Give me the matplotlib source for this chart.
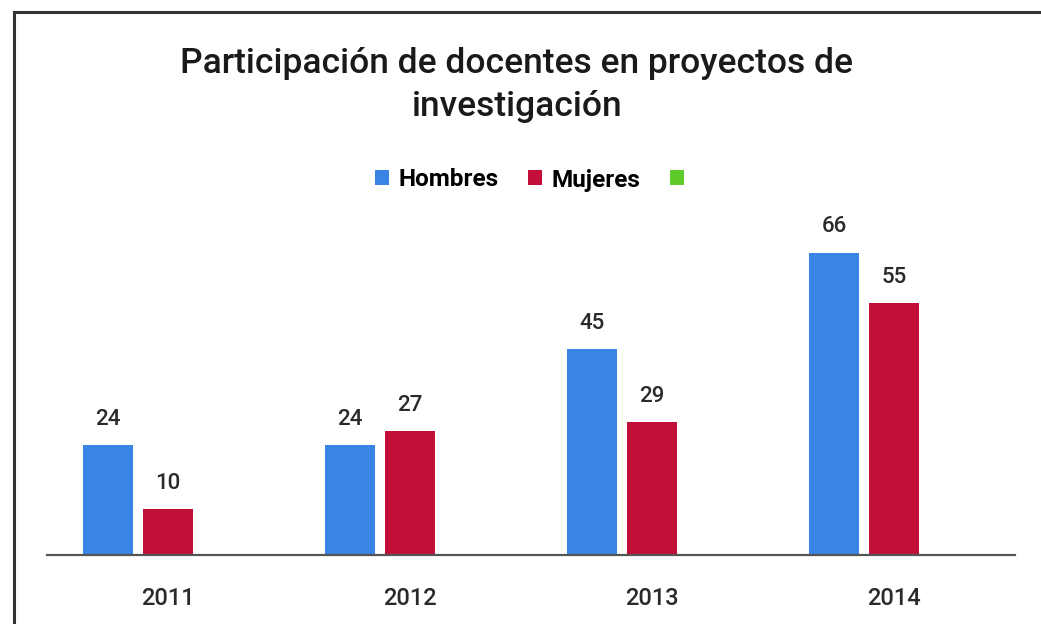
import matplotlib
matplotlib.use("Agg")
import matplotlib.pyplot as plt
from matplotlib.lines import Line2D
from matplotlib.patches import Patch
import numpy as np

years = ["2011", "2012", "2013", "2014"]
hombres = [24, 24, 45, 66]
mujeres = [10, 27, 29, 55]
series_labels = ["Hombres", "Mujeres", ""]
colors = ["#3A84E6", "#C20F3A", "#5FCB2B"]

W, H = 1041, 624
fig = plt.figure(figsize=(W / 100, H / 100), dpi=100)
plt.rcParams['font.family'] = ['Roboto', 'DejaVu Sans']
FW = "medium"

# axes placement in pixels
x0, x1 = 47, 1015
base = 555
ymax = 70
ppu = 4.58
ax = fig.add_axes([x0 / W, (H - base) / H, (x1 - x0) / W, ymax * ppu / H])

x = np.arange(len(years))
slot_px = (x1 - x0) / len(years)
bw = 50 / slot_px
step = 60 / slot_px
b1 = ax.bar(x - step, hombres, width=bw, color=colors[0], zorder=2)
b2 = ax.bar(x, mujeres, width=bw, color=colors[1], zorder=2)

for bars, vals in ((b1, hombres), (b2, mujeres)):
    for r, v in zip(bars, vals):
        ax.annotate(str(v), (r.get_x() + r.get_width() / 2, v),
                    xytext=(0, 11), textcoords="offset points",
                    ha="center", va="bottom", fontsize=16, color="#2a2a2a",
                    fontweight=FW)

ax.set_xlim(-0.5, len(years) - 0.5)
ax.set_ylim(0, ymax)
ax.set_xticks(x)
ax.set_xticklabels(years, fontsize=17, color="#2a2a2a", fontweight=FW)
ax.tick_params(axis="x", length=0, pad=23)
ax.set_yticks([])
for s in ["top", "right", "left"]:
    ax.spines[s].set_visible(False)
ax.spines["bottom"].set_color("#555555")
ax.spines["bottom"].set_linewidth(1.6)
ax.set_facecolor("none")

# title
fig.text(517 / W, 1 - 85 / H, "Participación de docentes en proyectos de\ninvestigación",
         ha="center", va="center", fontsize=25.5, color="#1a1a1a", linespacing=1.36,
         fontweight=FW)

# legend
handles = [Patch(facecolor=c, edgecolor="none") for c in colors]
fig.legend(handles, series_labels, loc="center", ncol=3,
           bbox_to_anchor=(534 / W, 1 - 180 / H), frameon=False,
           prop={"size": 17.5, "weight": "semibold"}, handlelength=0.58, handleheight=0.58,
           handletextpad=0.4, columnspacing=1.2)

# frame
lc = "#333333"
fig.add_artist(Line2D([14 / W, 14 / W], [1 - 12 / H, 0], color=lc, lw=2.2,
                      transform=fig.transFigure))
fig.add_artist(Line2D([14 / W, 1], [1 - 12 / H, 1 - 12 / H], color=lc, lw=2.2,
                      transform=fig.transFigure))

fig.savefig("out.png", dpi=100)
